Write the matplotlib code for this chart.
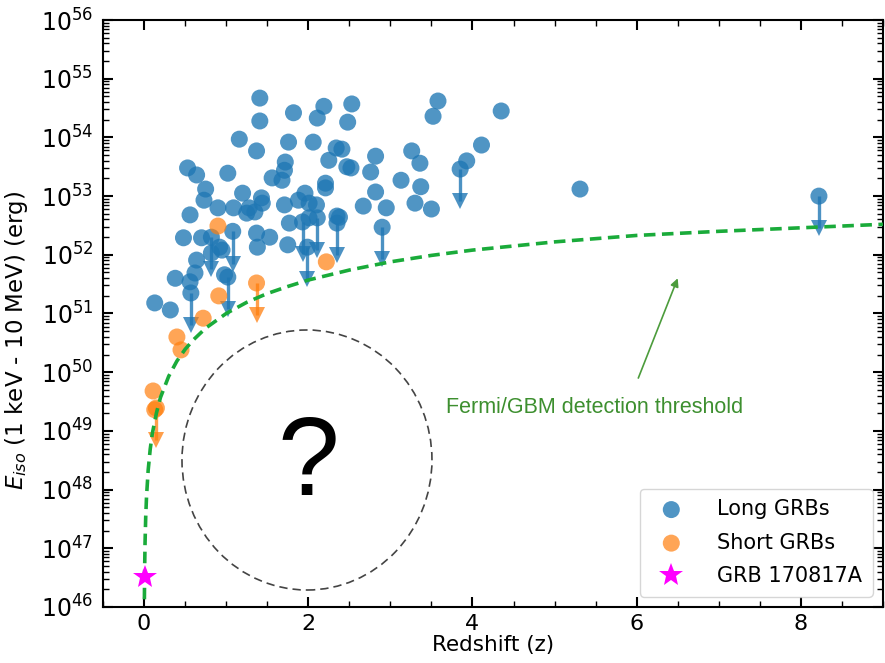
import numpy as np
import matplotlib
matplotlib.use("Agg")
import matplotlib.pyplot as plt
from matplotlib.patches import Ellipse
from matplotlib.ticker import MultipleLocator, LogLocator, NullFormatter

# ---------------- data ----------------
long_z = [1.41, 1.41, 1.16, 1.37, 0.53, 0.64, 1.02, 0.75, 0.73, 1.20,
          1.43, 0.90, 1.09, 1.28, 0.56, 1.25, 1.35, 1.44, 2.19, 2.53,
          1.82, 2.11, 2.48, 1.76, 2.06, 2.34, 2.41, 2.25, 2.82, 1.72,
          1.71, 2.47, 2.52, 2.76, 1.56, 1.68, 2.21, 2.21, 2.82, 3.13,
          1.71, 1.96, 2.01, 2.10, 2.67, 2.95, 1.88, 2.35, 3.58, 3.52,
          4.35, 4.11, 3.26, 3.36, 3.93, 3.85, 3.37, 3.30, 3.50, 5.31,
          8.22, 0.48, 0.70, 0.82, 1.08, 0.92, 0.82, 0.64, 0.95, 1.38,
          0.38, 0.56, 0.62, 0.98, 1.02, 0.57, 0.13, 0.32, 1.53, 1.75,
          1.77, 1.93, 2.01, 2.11, 1.99, 2.35, 2.38, 2.90, 1.37]
long_logE = [54.67, 54.28, 53.97, 53.77, 53.48, 53.36, 53.39, 53.12, 52.93, 53.05,
             52.97, 52.80, 52.80, 52.80, 52.68, 52.71, 52.73, 52.88, 54.53, 54.57,
             54.42, 54.33, 54.26, 53.92, 53.92, 53.82, 53.80, 53.61, 53.68, 53.58,
             53.44, 53.50, 53.48, 53.41, 53.31, 53.27, 53.22, 53.14, 53.07, 53.27,
             52.85, 53.05, 52.88, 52.85, 52.83, 52.80, 52.93, 52.66, 54.62, 54.36,
             54.45, 53.87, 53.77, 53.56, 53.60, 53.46, 53.16, 52.88, 52.78, 53.12,
             53.00, 52.29, 52.29, 52.30, 52.40, 52.13, 52.03, 51.91, 52.08, 52.13,
             51.60, 51.54, 51.69, 51.66, 51.62, 51.35, 51.18, 51.06, 52.30, 52.17,
             52.54, 52.56, 52.63, 52.63, 52.13, 52.54, 52.64, 52.47, 52.37]
long_ul = [0, 0, 0, 0, 0, 0, 0, 0, 0, 0,
           0, 0, 0, 0, 0, 0, 0, 0, 0, 0,
           0, 0, 0, 0, 0, 0, 0, 0, 0, 0,
           0, 0, 0, 0, 0, 0, 0, 0, 0, 0,
           0, 0, 0, 0, 0, 0, 0, 0, 0, 0,
           0, 0, 0, 0, 0, 1, 0, 0, 0, 0,
           1, 0, 0, 1, 1, 0, 0, 0, 0, 0,
           0, 0, 0, 0, 1, 1, 0, 0, 0, 0,
           0, 1, 0, 1, 1, 1, 0, 1, 0]

short_z = [0.90, 0.91, 1.37, 0.72, 0.40, 0.45, 0.11, 0.15, 0.13, 2.22]
short_logE = [52.49, 51.30, 51.52, 50.92, 50.60, 50.38, 49.68, 49.39, 49.36, 51.88]
short_ul = [0, 0, 1, 0, 0, 0, 0, 1, 0, 0]

grb_z = [0.0098]
grb_logE = [46.51]

thr_z = [0.004, 0.008, 0.012, 0.02, 0.03, 0.05, 0.075, 0.1, 0.15, 0.2,
         0.3, 0.4, 0.5, 0.6, 0.75, 1.0, 1.25, 1.5, 1.75, 2.0,
         2.5, 3.0, 3.5, 4.0, 5.0, 6.0, 7.0, 8.0, 9.0]
thr_logE = [46.13, 46.73, 47.09, 47.53, 47.88, 48.33, 48.69, 48.95, 49.30, 49.57,
            49.93, 50.19, 50.39, 50.55, 50.75, 51.00, 51.19, 51.34, 51.46, 51.57,
            51.74, 51.88, 51.99, 52.08, 52.22, 52.33, 52.40, 52.46, 52.52]

# ---------------- figure ----------------
fig = plt.figure(figsize=(8.85, 6.63), dpi=100)
ax = fig.add_axes([0.1164, 0.0845, 0.8813, 0.8853])
ax.set_yscale("log")

BLUE = "#1f77b4"
ORANGE = "#ff7f0e"
drop = 0.55


def draw_limits(zs, logs, uls, color, alpha):
    for z, l, u in zip(zs, logs, uls):
        if u:
            y0 = 10 ** l
            y1 = 10 ** (l - drop)
            ax.plot([z, z], [y0, y1], color=color, lw=2.4, alpha=alpha,
                    solid_capstyle="butt", zorder=2)
            ax.plot([z], [y1], marker="v", ms=11, color=color, alpha=alpha,
                    mew=0, zorder=2)


draw_limits(long_z, long_logE, long_ul, BLUE, 0.8)
draw_limits(short_z, short_logE, short_ul, ORANGE, 0.75)

ax.scatter(long_z, 10 ** np.array(long_logE), s=150, color=BLUE, alpha=0.78,
           edgecolors="none", label="Long GRBs", zorder=3)
ax.scatter(short_z, 10 ** np.array(short_logE), s=150, color=ORANGE, alpha=0.7,
           edgecolors="none", label="Short GRBs", zorder=3)
ax.plot(thr_z, 10 ** np.array(thr_logE), ls="--", color="#1aab3a", lw=2.6,
        dashes=(3.2, 1.8), zorder=4)
ax.plot(grb_z, 10 ** np.array(grb_logE), ls="none", marker="*", ms=18,
        color="#ff00ff", mew=0, label="GRB 170817A", zorder=5)

# empty region
ell = Ellipse((0.2615, 0.2504), 0.3205, 0.443, transform=ax.transAxes,
              fill=False, ls=(0, (5, 3)), ec="#444444", lw=1.2, zorder=1)
ax.add_patch(ell)
ax.text(2.0, 10 ** 48.4, "?", fontsize=80, ha="center", va="center",
        family="Liberation Sans", color="black")

# threshold annotation
ax.annotate("", xy=(6.5, 10 ** 51.6), xytext=(6.02, 10 ** 49.90),
            arrowprops=dict(arrowstyle="-|>", color="#4c9c3c", lw=1.2,
                            mutation_scale=12, shrinkA=0, shrinkB=0))
ax.text(3.68, 10 ** 49.39, "Fermi/GBM detection threshold", color="#3d8f2f",
        fontsize=15.5, family="Liberation Sans", va="center", ha="left")

# axes
ax.set_xlim(-0.5, 9)
ax.set_ylim(1e46, 1e56)
ax.set_yticks([10.0 ** k for k in range(46, 57)])
ax.yaxis.set_minor_locator(LogLocator(base=10, subs=np.arange(2, 10), numticks=100))
ax.yaxis.set_minor_formatter(NullFormatter())
ax.xaxis.set_major_locator(MultipleLocator(2))
ax.xaxis.set_minor_locator(MultipleLocator(0.5))
ax.tick_params(which="both", direction="in", top=True, right=True)
ax.tick_params(which="major", length=7, width=1.5, labelsize=17, pad=7)
ax.tick_params(axis="x", which="major", pad=5, labelsize=16)
ax.tick_params(which="minor", length=4, width=1)
for s in ax.spines.values():
    s.set_linewidth(1.5)

ax.set_xlabel("Redshift (z)", fontsize=15.5, labelpad=1)
ax.set_ylabel(r"$E_{iso}$ (1 keV - 10 MeV) (erg)", fontsize=16.5)
ax.yaxis.set_label_coords(-0.094, 0.455)

ax.legend(loc="lower right", fontsize=15, borderaxespad=0.5, framealpha=0.8,
          labelspacing=0.65, handletextpad=1.2, borderpad=0.5)

fig.savefig("out.png", dpi=100)
